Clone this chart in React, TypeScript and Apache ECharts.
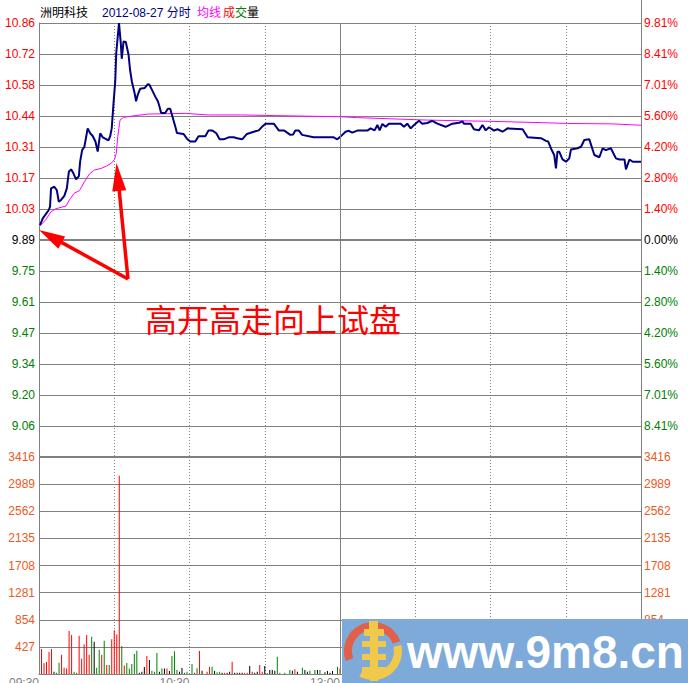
import React, { useEffect, useRef } from 'react';
import * as echarts from 'echarts';

const prevClose = 9.89;
const maxDev = 0.97;
const step = maxDev / 7;

const priceTime = [
  0.4, 1.5, 2.5, 3.9, 4.4, 4.8, 6.1, 7.1, 7.9, 8.8, 10.1, 11.1, 11.9, 12.8, 13.7, 14.8, 15.9, 16.4, 17.2, 18.1,
  19.4, 20.4, 21.4, 22.5, 23.4, 24.4, 25.4, 26.4, 27.7, 28.4, 29.0, 29.7, 30.4, 30.8, 31.4, 31.9, 32.6, 33.0, 33.7, 34.6,
  35.7, 36.3, 37.0, 38.1, 38.7, 39.4, 40.3, 42.1, 43.4, 44.0, 45.0, 46.3, 47.4, 48.0, 48.7, 50.3, 51.4, 52.3, 53.0, 54.3,
  55.0, 57.6, 59.0, 60.3, 62.3, 63.6, 66.3, 67.6, 69.0, 70.7, 72.0, 73.6, 75.6, 77.6, 79.0, 81.0, 82.9, 85.6, 87.6, 88.9,
  90.3, 93.6, 95.6, 97.8, 100.2, 101.3, 102.2, 103.6, 104.9, 109.5, 117.5, 118.9, 120.2, 122.2, 123.5, 124.9, 126.9, 130.9, 132.2, 133.8,
  134.9, 135.8, 136.9, 138.2, 139.5, 144.2, 145.5, 146.8, 148.2, 149.5, 151.5, 152.8, 154.8, 156.8, 158.8, 162.1, 164.8, 167.5, 168.8, 169.4,
  172.1, 173.4, 175.4, 176.8, 178.1, 179.4, 181.4, 182.8, 184.8, 186.8, 192.8, 194.8, 200.1, 202.1, 203.0, 204.4, 205.4, 206.1, 206.7, 207.4,
  208.7, 210.1, 211.4, 212.1, 214.7, 216.1, 217.4, 219.4, 221.4, 223.4, 224.7, 226.0, 228.0, 230.0, 231.4, 233.4, 234.0, 235.4, 236.7, 240
];
const priceValues = [
  9.957, 9.987, 10.002, 10.024, 10.039, 10.121, 10.128, 10.113, 10.061, 10.069, 10.087, 10.121, 10.195, 10.206, 10.188, 10.161, 10.176, 10.24, 10.292, 10.307,
  10.389, 10.367, 10.355, 10.33, 10.285, 10.367, 10.349, 10.343, 10.335, 10.355, 10.39, 10.5, 10.6, 10.726, 10.8, 10.86, 10.77, 10.7, 10.778, 10.775,
  10.718, 10.651, 10.6, 10.547, 10.51, 10.54, 10.566, 10.569, 10.587, 10.584, 10.562, 10.532, 10.51, 10.488, 10.458, 10.458, 10.477, 10.477, 10.45, 10.398,
  10.368, 10.364, 10.343, 10.33, 10.33, 10.354, 10.354, 10.38, 10.38, 10.367, 10.34, 10.34, 10.349, 10.349, 10.345, 10.34, 10.364, 10.374, 10.38, 10.396,
  10.41, 10.41, 10.38, 10.379, 10.36, 10.362, 10.379, 10.379, 10.36, 10.349, 10.349, 10.34, 10.352, 10.374, 10.378, 10.37, 10.379, 10.379, 10.389, 10.38,
  10.404, 10.38, 10.409, 10.396, 10.41, 10.41, 10.396, 10.41, 10.389, 10.404, 10.423, 10.41, 10.413, 10.423, 10.41, 10.396, 10.41, 10.414, 10.42, 10.41,
  10.41, 10.385, 10.38, 10.404, 10.38, 10.394, 10.379, 10.385, 10.374, 10.389, 10.385, 10.349, 10.345, 10.333, 10.33, 10.292, 10.27, 10.21, 10.285, 10.285,
  10.25, 10.24, 10.255, 10.295, 10.3, 10.307, 10.337, 10.34, 10.27, 10.26, 10.3, 10.292, 10.3, 10.255, 10.25, 10.25, 10.206, 10.25, 10.24, 10.24
];

const avgTime = [
  0.4, 2.8, 4.8, 6.8, 10.8, 12.1, 14.1, 16.1, 18.1, 20.1, 22.1, 24.8, 26.8, 28.8, 30.1, 30.8, 31.4, 32.1, 32.3, 33.7,
  38.3, 43.6, 58.3, 67.5, 80.3, 94.2, 120.2, 126.9, 154.8, 181.4, 202.1, 210.7, 228.7, 240
];
const avgValues = [
  9.953, 9.982, 10.016, 10.03, 10.042, 10.069, 10.1, 10.11, 10.15, 10.185, 10.203, 10.21, 10.22, 10.233, 10.25, 10.277, 10.352, 10.41, 10.426, 10.438,
  10.446, 10.453, 10.456, 10.449, 10.449, 10.446, 10.441, 10.437, 10.426, 10.42, 10.414, 10.411, 10.409, 10.403
];

// volume for minutes 1..121
const volumeValues = [
  392, 168, 188, 345, 392, 36, 20, 178, 303, 100,
  85, 675, 612, 36, 20, 601, 240, 470, 612, 303,
  585, 507, 100, 381, 303, 522, 141, 141, 549, 690,
  622, 3122, 440, 133, 172, 85, 157, 314, 366, 20,
  36, 110, 282, 220, 52, 36, 330, 36, 85, 85,
  85, 47, 282, 360, 63, 36, 94, 21, 37, 0,
  157, 21, 89, 361, 52, 0, 37, 115, 115, 47,
  26, 37, 21, 21, 21, 37, 193, 21, 21, 21,
  21, 21, 21, 126, 37, 21, 37, 141, 37, 126,
  10, 63, 63, 52, 272, 21, 0, 21, 0, 63,
  52, 73, 37, 0, 99, 63, 37, 52, 0, 63,
  63, 63, 0, 26, 47, 21, 47, 0, 115, 89,
  105
];
const volumeTone =
  'rrrrrkggrr' + 'rrrggrrrrr' + 'gkggrgrgrr' + 'rrgrgggggk' + 'kkrkgggkgk' + 'rkgggkkggk' +
  'grgrkkrrgk' + 'ggkrkkrkkk' + 'krrkrkkrrk' + 'kkkkggkgkg' + 'krkkgkkgkg' + 'kgkkkkkkgr' + 'k';

const volumeMax = 3416;
const volumeInterval = 427;
const timeLabels: Record<number, string> = { 0: '09:30', 60: '10:30', 120: '13:00', 180: '14:00', 240: '15:00' };

const toneColor: Record<string, string> = { r: '#ff0000', g: '#008000', k: '#000000' };
const norm = (p: number) => (p - prevClose) / step;
const signColor = (v: number) => (v > 0.001 ? '#ff0000' : v < -0.001 ? '#008000' : '#000000');

const GRAY = '#808080';
const LABEL_FONT = '"Liberation Sans", Arial, sans-serif';
const CJK_FONT = '"Liberation Sans", "Noto Sans CJK SC", sans-serif';
const VOL_COLOR = '#eb5a23';

function arrowShapes(from: [number, number], tip: [number, number], headLen: number, halfW: number) {
  const dx = tip[0] - from[0];
  const dy = tip[1] - from[1];
  const len = Math.sqrt(dx * dx + dy * dy);
  const ux = dx / len, uy = dy / len;
  const bx = tip[0] - ux * headLen, by = tip[1] - uy * headLen;
  const nx = -uy, ny = ux;
  return [
    {
      type: 'line', z: 50,
      shape: { x1: from[0], y1: from[1], x2: bx + ux * 4, y2: by + uy * 4 },
      style: { stroke: '#ff0000', lineWidth: 3.5 }
    },
    {
      type: 'polygon', z: 50,
      shape: { points: [[tip[0], tip[1]], [bx + nx * halfW, by + ny * halfW], [bx - nx * halfW, by - ny * halfW]] },
      style: { fill: '#ff0000' }
    }
  ];
}

export default function App() {
  const ref = useRef<HTMLDivElement>(null);
  useEffect(() => {
    const chart = echarts.init(ref.current!, undefined, { renderer: 'svg' });
    const priceData = priceTime.map((t, i) => [t, norm(priceValues[i])]);
    const avgData = avgTime.map((t, i) => [t, norm(avgValues[i])]);
    const volData = volumeValues.map((v, i) => ({
      value: [i + 1, v],
      itemStyle: { color: toneColor[volumeTone[i]] }
    }));

    const xBase = {
      type: 'value', min: 0, max: 240, interval: 30,
      axisTick: { show: false },
      splitLine: { show: true, lineStyle: { color: GRAY, width: 1, type: [1, 2] } }
    };

    const option: any = {
      animation: false,
      backgroundColor: '#ffffff',
      grid: [
        { left: 39, right: 47, top: 23, height: 434, outerBoundsMode: 'none', containLabel: false },
        { left: 39, right: 47, top: 457, height: 217, outerBoundsMode: 'none', containLabel: false }
      ],
      xAxis: [
        { ...xBase, gridIndex: 0, axisLine: { show: false }, axisLabel: { show: false } },
        {
          ...xBase, gridIndex: 1,
          axisLine: { show: true, lineStyle: { color: GRAY, width: 1 } },
          axisLabel: {
            show: true, color: GRAY, fontSize: 12, fontFamily: LABEL_FONT, align: 'right', verticalAlign: 'top', margin: 3,
            formatter: (v: number) => timeLabels[Math.round(v)] || ''
          }
        }
      ],
      yAxis: [
        {
          type: 'value', gridIndex: 0, position: 'left', min: -7, max: 7, interval: 1,
          axisLine: { show: true, lineStyle: { color: GRAY } }, axisTick: { show: false },
          splitLine: { show: true, lineStyle: { color: GRAY, width: 1 } },
          axisLabel: {
            fontSize: 12, fontFamily: LABEL_FONT, margin: 4,
            color: (v: any) => signColor(Number(v)),
            formatter: (v: number) => {
              const k = Math.round(v);
              return k === -7 ? '' : (prevClose + k * step).toFixed(2);
            }
          }
        },
        {
          type: 'value', gridIndex: 0, position: 'right', min: -7, max: 7, interval: 1,
          axisLine: { show: true, lineStyle: { color: GRAY } }, axisTick: { show: false },
          splitLine: { show: false },
          axisLabel: {
            fontSize: 12, fontFamily: LABEL_FONT, margin: 3,
            color: (v: any) => signColor(Number(v)),
            formatter: (v: number) => {
              const k = Math.round(v);
              return k === -7 ? '' : ((Math.abs(k) * step) / prevClose * 100).toFixed(2) + '%';
            }
          }
        },
        {
          type: 'value', gridIndex: 1, position: 'left', min: 0, max: volumeMax, interval: volumeInterval,
          axisLine: { show: true, lineStyle: { color: GRAY } }, axisTick: { show: false },
          splitLine: { show: true, lineStyle: { color: GRAY, width: 1 } },
          axisLabel: {
            fontSize: 12, fontFamily: LABEL_FONT, margin: 4, color: VOL_COLOR,
            formatter: (v: number) => (v === 0 ? '' : String(Math.round(v)))
          }
        },
        {
          type: 'value', gridIndex: 1, position: 'right', min: 0, max: volumeMax, interval: volumeInterval,
          axisLine: { show: true, lineStyle: { color: GRAY } }, axisTick: { show: false },
          splitLine: { show: false },
          axisLabel: {
            fontSize: 12, fontFamily: LABEL_FONT, margin: 3, color: VOL_COLOR,
            formatter: (v: number) => (v === 0 ? '' : String(Math.round(v)))
          }
        }
      ],
      series: [
        {
          type: 'line', xAxisIndex: 0, yAxisIndex: 0, data: avgData, showSymbol: false, symbol: 'none',
          lineStyle: { color: '#ff00ff', width: 1 }, z: 3,
          markLine: {
            silent: true, symbol: 'none', label: { show: false },
            data: [
              { yAxis: 0, lineStyle: { color: GRAY, width: 2, type: 'solid' } },
              { xAxis: 120, lineStyle: { color: GRAY, width: 1, type: 'solid' } }
            ]
          }
        },
        {
          type: 'line', xAxisIndex: 0, yAxisIndex: 0, data: priceData, showSymbol: false, symbol: 'none',
          lineStyle: { color: '#000080', width: 2 }, z: 4
        },
        {
          type: 'bar', xAxisIndex: 1, yAxisIndex: 2, data: volData, barWidth: 1, z: 3,
          markLine: {
            silent: true, symbol: 'none', label: { show: false },
            data: [
              { yAxis: volumeMax, lineStyle: { color: GRAY, width: 2, type: 'solid' } },
              { xAxis: 120, lineStyle: { color: GRAY, width: 1, type: 'solid' } }
            ]
          }
        }
      ],
      graphic: [
        { type: 'line', z: 10, shape: { x1: 641.5, y1: 0, x2: 641.5, y2: 23 }, style: { stroke: GRAY, lineWidth: 1 } },
        { type: 'text', z: 10, x: 40, y: 13, style: { text: '洲明科技', fill: '#000000', font: '12px ' + CJK_FONT, verticalAlign: 'middle' } },
        { type: 'text', z: 10, x: 102, y: 13, style: { text: '2012-08-27 分时', fill: '#000080', font: '12px ' + CJK_FONT, verticalAlign: 'middle' } },
        { type: 'text', z: 10, x: 197, y: 13, style: { text: '均线', fill: '#ff00ff', font: '12px ' + CJK_FONT, verticalAlign: 'middle' } },
        { type: 'text', z: 10, x: 223, y: 13, style: { text: '成', fill: '#ff0000', font: '12px ' + CJK_FONT, verticalAlign: 'middle' } },
        { type: 'text', z: 10, x: 235, y: 13, style: { text: '交', fill: '#008000', font: '12px ' + CJK_FONT, verticalAlign: 'middle' } },
        { type: 'text', z: 10, x: 247, y: 13, style: { text: '量', fill: '#000000', font: '12px ' + CJK_FONT, verticalAlign: 'middle' } },
        { type: 'text', z: 50, x: 145, y: 318, style: { text: '高开高走向上试盘', fill: '#ff0000', font: '32px "Noto Sans CJK SC", sans-serif', verticalAlign: 'middle' } },
        ...arrowShapes([128, 279], [39, 230], 26, 7),
        ...arrowShapes([128, 279], [116.5, 163], 28, 7),
        {
          type: 'group', z: 100,
          children: [
            { type: 'rect', z: 100, shape: { x: 342, y: 619, width: 346, height: 64 }, style: { fill: '#7eaad9' } },
            { type: 'arc', z: 101, shape: { cx: 373, cy: 651, r: 25, startAngle: (160 * Math.PI) / 180, endAngle: (340 * Math.PI) / 180, clockwise: true }, style: { stroke: '#e0604a', lineWidth: 8, fill: 'none' } },
            { type: 'arc', z: 101, shape: { cx: 373, cy: 651, r: 25, startAngle: (-12 * Math.PI) / 180, endAngle: (118 * Math.PI) / 180, clockwise: true }, style: { stroke: '#f0c84a', lineWidth: 8, fill: 'none' } },
            { type: 'rect', z: 102, shape: { x: 369, y: 621, width: 9, height: 8 }, style: { fill: '#f0c84a' } },
            { type: 'rect', z: 102, shape: { x: 364, y: 629, width: 20, height: 7 }, style: { fill: '#f0c84a' } },
            { type: 'rect', z: 102, shape: { x: 370, y: 629, width: 8, height: 52 }, style: { fill: '#f0c84a' } },
            { type: 'rect', z: 102, shape: { x: 362, y: 641, width: 24, height: 6 }, style: { fill: '#f0c84a' } },
            { type: 'rect', z: 102, shape: { x: 362, y: 654, width: 24, height: 6 }, style: { fill: '#f0c84a' } },
            { type: 'rect', z: 102, shape: { x: 362, y: 667, width: 24, height: 6 }, style: { fill: '#f0c84a' } },
            { type: 'text', z: 103, x: 407, y: 652, style: { text: 'www.9m8.cn', fill: '#ffffff', font: 'bold 46px "Liberation Sans", Arial, sans-serif', verticalAlign: 'middle' } }
          ]
        }
      ]
    };
    chart.setOption(option);
    return () => chart.dispose();
  }, []);
  return (
    <div
      ref={ref}
      style={{ position: 'fixed', left: 0, top: 0, width: 688, height: 683, background: '#ffffff' }}
    />
  );
}
